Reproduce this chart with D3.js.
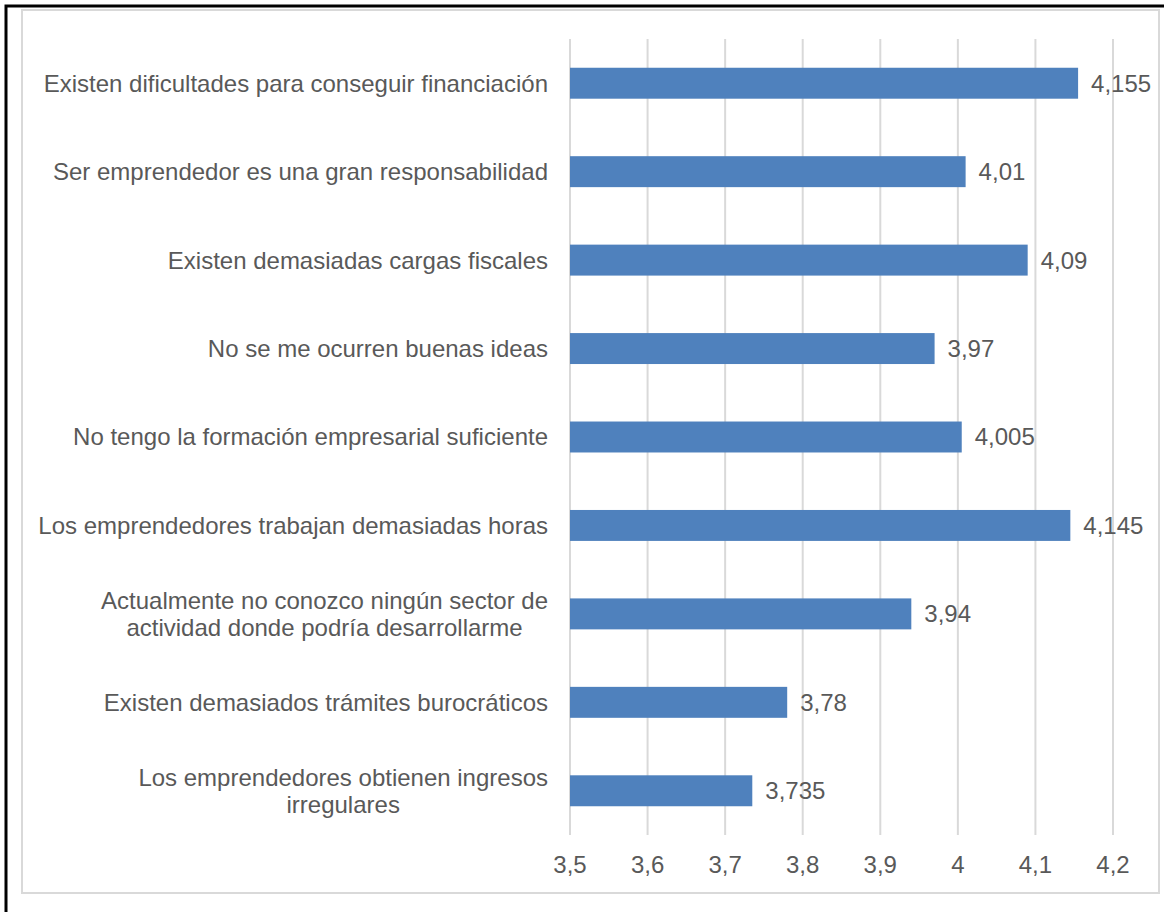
<!DOCTYPE html>
<html><head><meta charset="utf-8">
<script src="https://cdn.jsdelivr.net/npm/d3@7"></script>
<style>body{margin:0;background:#fff;} text{font-family:"Liberation Sans",Arial,sans-serif;}</style>
</head><body>
<svg id="c" width="1164" height="912"></svg>
<script>
const categories = [
  ["Existen dificultades para conseguir financiación"],
  ["Ser emprendedor es una gran responsabilidad"],
  ["Existen demasiadas cargas fiscales"],
  ["No se me ocurren buenas ideas"],
  ["No tengo la formación empresarial suficiente"],
  ["Los emprendedores trabajan demasiadas horas"],
  ["Actualmente no conozco ningún sector de", "actividad donde podría desarrollarme"],
  ["Existen demasiados trámites burocráticos"],
  ["Los emprendedores obtienen ingresos", "irregulares"]
];
const values = [4.155, 4.01, 4.09, 3.97, 4.005, 4.145, 3.94, 3.78, 3.735];
const valueLabels = ["4,155", "4,01", "4,09", "3,97", "4,005", "4,145", "3,94", "3,78", "3,735"];
const ticks = [3.5, 3.6, 3.7, 3.8, 3.9, 4.0, 4.1, 4.2];
const tickLabels = ["3,5", "3,6", "3,7", "3,8", "3,9", "4", "4,1", "4,2"];

const svg = d3.select("#c");
const fs = 24, color = "#595959";
// outer frame
svg.append("rect").attr("x", 6).attr("y", 6).attr("width", 1200).attr("height", 1000)
  .attr("fill", "none").attr("stroke", "#000").attr("stroke-width", 3);
svg.append("rect").attr("x", 22).attr("y", 10).attr("width", 1137).attr("height", 883)
  .attr("fill", "#fff").attr("stroke", "#d9d9d9").attr("stroke-width", 2);

const x = d3.scaleLinear().domain([3.5, 4.2]).range([570, 1113]);
const y = d3.scaleBand().domain(d3.range(categories.length)).range([39, 835]).paddingInner(0.65).paddingOuter(0.325);

// gridlines
svg.append("g").selectAll("line").data(ticks).join("line")
  .attr("x1", d => x(d)).attr("x2", d => x(d)).attr("y1", 39).attr("y2", 835)
  .attr("stroke", "#d9d9d9").attr("stroke-width", 2);

// bars
svg.append("g").selectAll("rect").data(values).join("rect")
  .attr("x", x(3.5)).attr("y", (d, i) => y(i)).attr("width", d => x(d) - x(3.5)).attr("height", y.bandwidth())
  .attr("fill", "#4f81bd");

// value labels
svg.append("g").selectAll("text").data(values).join("text")
  .attr("x", d => x(d) + 13).attr("y", (d, i) => y(i) + y.bandwidth() / 2).attr("dy", "0.35em")
  .attr("font-size", fs).attr("fill", color).text((d, i) => valueLabels[i]);

// tick labels
svg.append("g").selectAll("text").data(ticks).join("text")
  .attr("x", d => x(d)).attr("y", 865).attr("dy", "0.35em").attr("text-anchor", "middle")
  .attr("font-size", fs).attr("fill", color).text((d, i) => tickLabels[i]);

// category labels
const lh = 27;
categories.forEach((lines, i) => {
  const cy = y(i) + y.bandwidth() / 2;
  const g = svg.append("g");
  const ts = lines.map((l, k) => g.append("text")
    .attr("y", cy + (k - (lines.length - 1) / 2) * lh).attr("dy", "0.35em")
    .attr("font-size", fs).attr("fill", color).text(l));
  const w = Math.max(...ts.map(t => t.node().getComputedTextLength()));
  const right = 548;
  ts.forEach(t => t.attr("text-anchor", "middle").attr("x", right - w / 2));
});
</script>
</body></html>
